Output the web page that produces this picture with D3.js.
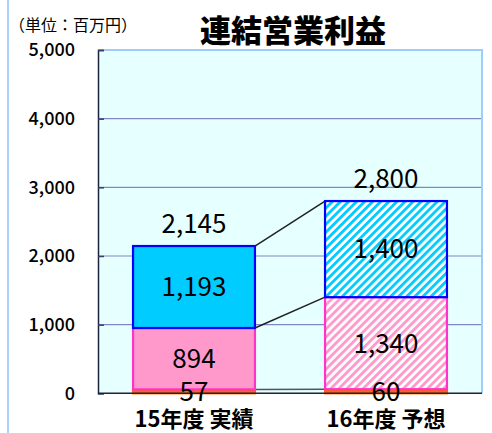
<!DOCTYPE html>
<html>
<head>
<meta charset="utf-8">
<script src="https://cdn.jsdelivr.net/npm/d3@7"></script>
<style>
    body { margin: 0; background: #fff; }
    text { font-family: "Noto Sans CJK JP", "Noto Sans", sans-serif; fill: #000; }
</style>
</head>
<body>
<div id="chart"></div>
<script>
// data (単位: 百万円)
const categories = ["15年度 実績", "16年度 予想"];
const bottomVals = [57, 60];
const midVals = [894, 1340];
const topVals = [1193, 1400];
const totals = [2145, 2800];
const yTicks = [0, 1000, 2000, 3000, 4000, 5000];

const width = 492, height = 433;
const margin = {top: 50, right: 10, bottom: 40, left: 98};

const svg = d3.select("#chart").append("svg")
    .attr("width", width)
    .attr("height", height);

const defs = svg.append("defs");

// diagonal hatch for forecast bars
function hatch(id, color) {
    let p = defs.append("pattern")
        .attr("id", id)
        .attr("patternUnits", "userSpaceOnUse")
        .attr("width", 5.7)
        .attr("height", 5.7)
        .attr("patternTransform", "rotate(45)");
    p.append("rect").attr("width", 5.7).attr("height", 5.7).attr("fill", "#fff");
    p.append("rect").attr("width", 2.8).attr("height", 5.7).attr("fill", color);
}
hatch("hatch-cyan", "#00ccff");
hatch("hatch-pink", "#ff99cc");

// outer chart frame, only the left edge shows
svg.append("line")
    .attr("x1", 8).attr("x2", 8)
    .attr("y1", 0).attr("y2", height)
    .attr("stroke", "#a9d3fb")
    .attr("stroke-width", 2);

const x = d3.scaleBand()
    .domain(categories)
    .range([margin.left, width - margin.right])
    .paddingInner(0.365)
    .paddingOuter(0.1825);

const y = d3.scaleLinear()
    .domain([0, 5000])
    .range([393.3, margin.top]);

// plot background
svg.append("rect")
    .attr("x", x.range()[0])
    .attr("y", y(5000))
    .attr("width", x.range()[1] - x.range()[0])
    .attr("height", y(0) - y(5000))
    .attr("fill", "#e6ffff");

// grid lines
svg.append("g")
    .selectAll("line")
    .data(yTicks.filter(d => d > 0 && d < 5000))
    .enter().append("line")
    .attr("x1", x.range()[0])
    .attr("x2", x.range()[1])
    .attr("y1", d => y(d))
    .attr("y2", d => y(d))
    .attr("stroke", "#8286c6")
    .attr("stroke-width", 1.2);

// top / right border of plot area
svg.append("path")
    .attr("d", `M${x.range()[0]},${y(5000)}H${x.range()[1]}V${y(0)}`)
    .attr("fill", "none")
    .attr("stroke", "#9fcdf8")
    .attr("stroke-width", 2);

// y axis
const yAxis = d3.axisLeft(y)
    .tickValues(yTicks)
    .tickFormat(d3.format(","))
    .tickSize(-6)
    .tickPadding(23);

const yg = svg.append("g")
    .attr("transform", `translate(${x.range()[0]},0)`)
    .call(yAxis);
yg.select(".domain").attr("stroke", "#1c2340").attr("stroke-width", 1.5);
yg.selectAll(".tick line").attr("stroke", "#3a4060").attr("stroke-width", 1.5);
yg.selectAll(".tick text")
    .style("font-family", "'Noto Sans CJK JP', sans-serif")
    .style("font-size", "18px")
    .style("font-weight", 500)
    .attr("fill", "#000");

// connector lines between bars
const cum1 = categories.map((c, i) => bottomVals[i]);
const cum2 = categories.map((c, i) => bottomVals[i] + midVals[i]);
const cum3 = totals;
const right0 = x(categories[0]) + x.bandwidth();
const left1 = x(categories[1]);

svg.append("g")
    .selectAll("line")
    .data([cum1, cum2, cum3])
    .enter().append("line")
    .attr("x1", right0)
    .attr("x2", left1)
    .attr("y1", d => y(d[0]))
    .attr("y2", d => y(d[1]))
    .attr("stroke", (d, i) => i === 0 ? "#555" : "#222")
    .attr("stroke-width", 1.5);

// stacked segments
const segments = [];
categories.forEach((c, i) => {
    segments.push({cat: c, y0: 0, y1: bottomVals[i], fill: "#ff6600", stroke: "#ff6600"});
    segments.push({cat: c, y0: bottomVals[i], y1: bottomVals[i] + midVals[i],
        fill: i === 0 ? "#ff99cc" : "url(#hatch-pink)", stroke: "#ff33cc"});
    segments.push({cat: c, y0: bottomVals[i] + midVals[i], y1: totals[i],
        fill: i === 0 ? "#00ccff" : "url(#hatch-cyan)", stroke: "#0000ff"});
});

svg.append("g")
    .selectAll("rect")
    .data(segments)
    .enter().append("rect")
    .attr("x", d => x(d.cat))
    .attr("y", d => y(d.y1))
    .attr("width", x.bandwidth())
    .attr("height", d => y(d.y0) - y(d.y1))
    .attr("fill", d => d.fill)
    .attr("stroke", d => d.stroke)
    .attr("stroke-width", 2.2);

// bottom axis line
svg.append("line")
    .attr("x1", x.range()[0])
    .attr("x2", x.range()[1])
    .attr("y1", y(0))
    .attr("y2", y(0))
    .attr("stroke", "#1c2340")
    .attr("stroke-width", 1.5);

// value labels
const fmt = d3.format(",");
const labels = [];
categories.forEach((c, i) => {
    labels.push({cat: c, v: bottomVals[i], pos: bottomVals[i] / 2});
    labels.push({cat: c, v: midVals[i], pos: bottomVals[i] + midVals[i] / 2});
    labels.push({cat: c, v: topVals[i], pos: (bottomVals[i] + midVals[i] + totals[i]) / 2});
});

svg.append("g")
    .selectAll("text")
    .data(labels)
    .enter().append("text")
    .attr("x", d => x(d.cat) + x.bandwidth() / 2)
    .attr("y", d => y(d.pos))
    .attr("dy", "0.36em")
    .attr("text-anchor", "middle")
    .style("font-size", "26px")
    .text(d => fmt(d.v));

svg.append("g")
    .selectAll("text")
    .data(totals)
    .enter().append("text")
    .attr("x", (d, i) => x(categories[i]) + x.bandwidth() / 2)
    .attr("y", d => y(d) - 22)
    .attr("dy", "0.36em")
    .attr("text-anchor", "middle")
    .style("font-size", "26px")
    .text(d => fmt(d));

// category labels
svg.append("g")
    .selectAll("text")
    .data(categories)
    .enter().append("text")
    .attr("x", d => x(d) + x.bandwidth() / 2)
    .attr("y", 419)
    .attr("dy", "0.36em")
    .attr("text-anchor", "middle")
    .style("font-size", "22px")
    .style("font-weight", "bold")
    .text(d => d);

// title and unit
svg.append("text")
    .attr("x", 293)
    .attr("y", 31)
    .attr("dy", "0.36em")
    .attr("text-anchor", "middle")
    .style("font-size", "31px")
    .style("font-weight", 900)
    .text("連結営業利益");

svg.append("text")
    .attr("x", 9)
    .attr("y", 25)
    .attr("dy", "0.36em")
    .style("font-size", "16px")
    .text("（単位：百万円）");
</script>
</body>
</html>
